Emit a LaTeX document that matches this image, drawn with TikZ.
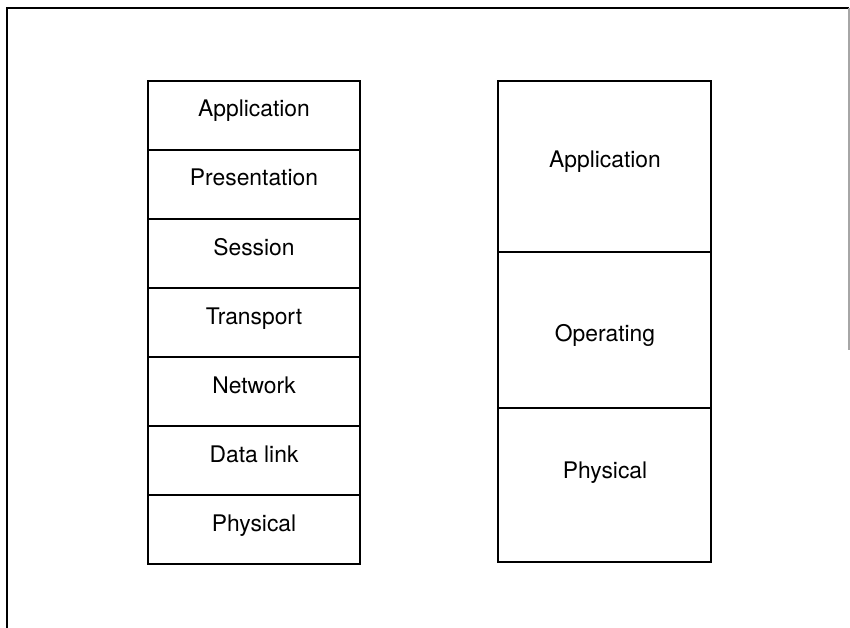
\documentclass[tikz,border=0pt]{standalone}
\usepackage{fontspec}
\setmainfont{TeX Gyre Heros}

\begin{document}
\begin{tikzpicture}[x=0.03cm, y=-0.03cm, line width=1.6pt,
  osibox/.style={draw, rectangle, inner sep=0pt, minimum width=6.36cm, minimum height=2.07cm},
  tcpbox/.style={draw, rectangle, inner sep=0pt, minimum width=6.39cm},
  lyrtext/.style={anchor=base, inner sep=0pt, font=\fontsize{19.5}{23}\selectfont}]
  \useasboundingbox (0,0) rectangle (850,628);
  % frame
  \draw (7,628) -- (7,8) -- (849,8);
  \draw[black!35, line width=1pt] (849,8) -- (849,350);
  % seven layers
  \node[osibox] (app) at (254,115.5) {};
  \node[osibox] (pres) at (254,184.5) {};
  \node[osibox] (sess) at (254,253.5) {};
  \node[osibox] (trans) at (254,322.5) {};
  \node[osibox] (net) at (254,391.5) {};
  \node[osibox] (dlink) at (254,460.5) {};
  \node[osibox] (phys) at (254,529.5) {};
  \node[lyrtext] (app-t) at (254,117) {Application};
  \node[lyrtext] (pres-t) at (254,186) {Presentation};
  \node[lyrtext] (sess-t) at (254,255) {Session};
  \node[lyrtext] (trans-t) at (254,324) {Transport};
  \node[lyrtext] (net-t) at (254,393) {Network};
  \node[lyrtext] (dlink-t) at (254,462) {Data link};
  \node[lyrtext] (phys-t) at (254,531) {Physical};
  % three layers
  \node[tcpbox, minimum height=5.13cm] (app2) at (604.5,166.5) {};
  \node[tcpbox, minimum height=4.68cm] (os2) at (604.5,330) {};
  \node[tcpbox, minimum height=4.62cm] (phys2) at (604.5,485) {};
  \node[lyrtext] (app2-t) at (605,168) {Application};
  \node[lyrtext] (os2-t) at (605,341) {Operating};
  \node[lyrtext] (phys2-t) at (605,478) {Physical};
\end{tikzpicture}
\end{document}
